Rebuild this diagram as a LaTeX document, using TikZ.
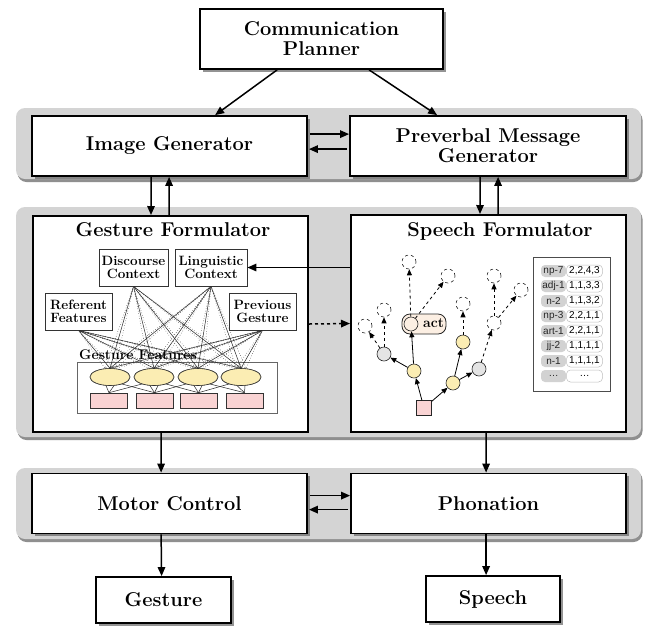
\documentclass[tikz,border=0pt]{standalone}
\usepackage{fontspec}
\newfontfamily\tabfont{Liberation Sans}
\usetikzlibrary{shadows,arrows.meta,calc,shapes.geometric}
\definecolor{bandgray}{HTML}{D4D4D4}
\definecolor{elly}{HTML}{FBEDB3}
\definecolor{rpink}{HTML}{F9D3D3}
\definecolor{actfill}{HTML}{FCEFE3}
\definecolor{cgray}{HTML}{E4E4E4}
\definecolor{pillgray}{HTML}{D2D2D2}
\tikzset{
  band/.style={fill=bandgray, rounded corners=9pt,
    drop shadow={shadow xshift=1.5pt, shadow yshift=-3pt, fill=black!55, opacity=0.8}},
  bigbox/.style={draw, line width=1.8pt, fill=white, align=center, inner sep=0pt,
    font=\fontsize{20}{20}\selectfont\bfseries,
    drop shadow={shadow xshift=2.5pt, shadow yshift=-2.5pt, fill=black!60, opacity=0.7}},
  formbox/.style={draw, line width=2pt, fill=white, inner sep=0pt},
  titletext/.style={font=\fontsize{20}{18}\selectfont\bfseries},
  smallbox/.style={draw=black!80, line width=0.8pt, fill=white, align=center, inner sep=0pt,
    font=\fontsize{13.5}{13}\selectfont\bfseries},
  arr/.style={-{Triangle[length=9pt,width=7.5pt]}, line width=1.5pt},
  meshs/.style={line width=0.5pt, black!85},
  meshd/.style={line width=0.5pt, dotted, black!80},
  gell/.style={ellipse, draw=black!80, line width=0.6pt, fill=elly, minimum width=40pt, minimum height=17pt, inner sep=0pt},
  grect/.style={rectangle, draw=black!80, line width=0.6pt, fill=rpink, minimum width=37pt, minimum height=15pt, inner sep=0pt},
  tcirc/.style={circle, draw=black!85, line width=0.6pt, minimum size=14pt, inner sep=0pt},
  dcirc/.style={tcirc, dashed, fill=white},
  tarr/.style={-{Triangle[length=6pt,width=5pt]}, line width=0.8pt},
  lpill/.style={fill=pillgray, rounded corners=4pt, minimum width=25pt, minimum height=12pt, inner sep=0pt,
    font=\tabfont\fontsize{10}{10}\selectfont, text=black!85},
  rpill/.style={draw=black!25, line width=0.5pt, fill=white, rounded corners=4pt, minimum width=36pt, minimum height=12pt, inner sep=0pt,
    font=\tabfont\fontsize{10}{10}\selectfont, text=black}
}
\begin{document}
\begin{tikzpicture}[x=1pt,y=-1pt]
\useasboundingbox (0,0) rectangle (645,625);
\fill[white] (0,0) rectangle (645,625);

% bands
\path[band] (16,108) rectangle (641,179);
\path[band] (16,207) rectangle (641,437);
\path[band] (16,468) rectangle (641,539);

% main boxes
\node[bigbox, minimum width=243pt, minimum height=60pt] (CP) at (321.5,39) {Communication\\Planner};
\node[bigbox, minimum width=275pt, minimum height=60pt] (IG) at (169.5,146) {Image Generator};
\node[bigbox, minimum width=276pt, minimum height=60pt] (PM) at (488,146) {Preverbal Message\\Generator};
\node[formbox, minimum width=275pt, minimum height=216pt] (GF) at (170.5,324) {};
\node[formbox, minimum width=275pt, minimum height=217pt] (SF) at (488.5,323.5) {};
\node[titletext] (GFt) at (173,230) {Gesture Formulator};
\node[titletext] (SFt) at (500,231) {Speech Formulator};
\node[bigbox, minimum width=275pt, minimum height=60pt] (MC) at (169.5,503.5) {Motor Control};
\node[bigbox, minimum width=275pt, minimum height=60pt] (PH) at (488.5,503.5) {Phonation};
\node[bigbox, minimum width=135pt, minimum height=46pt] (GE) at (163.5,600) {Gesture};
\node[bigbox, minimum width=134pt, minimum height=46pt] (SP) at (493,599) {Speech};

% main arrows
\draw[arr] ($(CP.south west)+(78,0)$) -- ($(IG.north west)+(184,0)$);
\draw[arr] ($(CP.south west)+(170,0)$) -- ($(PM.north west)+(88,0)$);
\draw[arr] ($(IG.north east)+(2,19)$) -- ($(PM.north west)+(0,19)$);
\draw[arr] ($(PM.north west)+(-2,34)$) -- ($(IG.north east)+(1,34)$);
\draw[arr] ($(IG.south west)+(120,0)$) -- ($(GF.north west)+(119,0)$);
\draw[arr] ($(GF.north west)+(137,0)$) -- ($(IG.south west)+(138,0)$);
\draw[arr] ($(PM.south west)+(131,0)$) -- ($(SF.north west)+(130,0)$);
\draw[arr] ($(SF.north west)+(148,0)$) -- ($(PM.south west)+(149,0)$);
\draw[arr] ($(GF.south west)+(129,0)$) -- ($(MC.north west)+(130,0)$);
\draw[arr] ($(SF.south west)+(136,0)$) -- ($(PH.north west)+(136,0)$);
\draw[arr] ($(MC.north east)+(2,23)$) -- ($(PH.north west)+(0,23)$);
\draw[arr] ($(PH.north west)+(-2,37)$) -- ($(MC.north east)+(1,37)$);
\draw[arr] ($(MC.south west)+(130,0)$) -- ($(GE.north west)+(66.5,0)$);
\draw[arr] ($(PH.south west)+(136,0)$) -- ($(SP.north west)+(61,0)$);

% gesture formulator internals
\node[smallbox, minimum width=69pt, minimum height=37pt] (DC) at (133.5,267.5) {Discourse\\Context};
\node[smallbox, minimum width=72pt, minimum height=37pt] (LC) at (211,267.5) {Linguistic\\Context};
\node[smallbox, minimum width=67pt, minimum height=37pt] (RF) at (78.5,311.5) {Referent\\Features};
\node[smallbox, minimum width=67pt, minimum height=37pt] (PG) at (262.5,311.5) {Previous\\Gesture};
\node[draw=black!60, line width=0.6pt, fill=white, minimum width=200pt, minimum height=51pt, inner sep=0pt] (GC) at (177,387.5) {};

\coordinate (E1) at (110,377);
\coordinate (E2) at (154,377);
\coordinate (E3) at (198,377);
\coordinate (E4) at (241,377);
\foreach \i in {1,2,3,4} {
  \node[gell] (e\i) at (E\i) {};
}
\node[grect] (r1) at (109,400.5) {};
\node[grect] (r2) at (154.5,400.5) {};
\node[grect] (r3) at (198.5,400.5) {};
\node[grect] (r4) at (244.5,400.5) {};

% mesh lines
\foreach \s in {DC,LC,RF,PG} {
  \foreach \i in {1,2,3,4} {
    \draw[meshs] (\s.south) -- (e\i.north);
    \draw[meshd] (\s.south) -- (e\i.60);
    \draw[meshd] (\s.south) -- (e\i.120);
  }
}
\foreach \i in {1,2,3,4} {
  \draw[meshs] (r\i.north) -- (e\i.245);
  \draw[meshs] (r\i.north) -- (e\i.295);
}
\foreach \i/\j in {1/2,2/3,3/4} {
  \draw[meshs] (r\j.north) -- (e\i.330);
  \draw[meshs] (r\i.north) -- (e\j.210);
}
% redraw ellipses and rects on top of the mesh
\foreach \i in {1,2,3,4} {
  \node[gell] at (E\i) {};
}
\foreach \i/\x in {1/109,2/154.5,3/198.5,4/244.5} {
  \node[grect] at (\x,400.5) {};
}
\node[anchor=base west, inner sep=0pt, font=\fontsize{14}{14}\selectfont\bfseries] (GFl) at (79,359) {Gesture Features};

% connections between formulators
\draw[arr] (SF.west |- LC.east) -- (LC.east);
\draw[arr, dashed] (GF.east) -- (SF.west);

% speech formulator tree
\node[draw=black!85, line width=0.6pt, fill=rpink, minimum size=15pt, inner sep=0pt] (S) at (424,408) {};
\node[tcirc, fill=elly] (A) at (414,371) {};
\node[tcirc, fill=elly] (B) at (453,383) {};
\node[tcirc, fill=cgray] (C) at (384,354) {};
\node[tcirc, fill=elly] (D) at (463,342) {};
\node[tcirc, fill=cgray] (E) at (479,369) {};
\node[draw=black!85, line width=0.8pt, fill=actfill, rounded corners=8pt, minimum width=44pt, minimum height=20pt, inner sep=0pt] (ACT) at (424,324) {};
\node[tcirc, fill=actfill] (AI) at (411,324) {};
\node[font=\fontsize{14}{14}\selectfont\bfseries, inner sep=0pt] (ACTt) at (433.5,323) {act};
\node[dcirc] (F) at (494,323) {};
\node[dcirc] (G) at (409,262) {};
\node[dcirc] (H) at (448,276) {};
\node[dcirc] (I) at (384,310) {};
\node[dcirc] (J) at (365,326) {};
\node[dcirc] (K) at (463,304) {};
\node[dcirc] (L) at (494,276) {};
\node[dcirc] (M) at (521,290) {};

\draw[tarr] (S) -- (A);
\draw[tarr] (S) -- (B);
\draw[tarr] (A) -- (C);
\draw[tarr] (A) -- (AI);
\draw[tarr] (B) -- (D);
\draw[tarr] (B) -- (E);
\draw[tarr, dashed] (C) -- (I);
\draw[tarr, dashed] (C) -- (J);
\draw[tarr, dashed] (AI) -- (G);
\draw[tarr, dashed] (AI) -- (H);
\draw[tarr, dashed] (D) -- (K);
\draw[tarr, dashed] (E) -- (F);
\draw[tarr, dashed] (F) -- (L);
\draw[tarr, dashed] (F) -- (M);

% table
\node[draw=black!70, line width=0.8pt, fill=white, minimum width=77pt, minimum height=134pt, inner sep=0pt] (TB) at (571.5,324) {};
\foreach \l/\v/\k in {np-7/{2,2,4,3}/0,adj-1/{1,1,3,3}/1,n-2/{1,1,3,2}/2,np-3/{2,2,1,1}/3,art-1/{2,2,1,1}/4,jj-2/{1,1,1,1}/5,n-1/{1,1,1,1}/6} {
  \node[rpill] (RV\k) at (584.5,{271+15*\k}) {\v};
  \node[lpill] (LV\k) at (553.5,{271+15*\k}) {\l};
}
\node[rpill] (RV7) at (584.5,376) {\ldots};
\node[lpill] (LV7) at (553.5,376) {\ldots};
\end{tikzpicture}
\end{document}
